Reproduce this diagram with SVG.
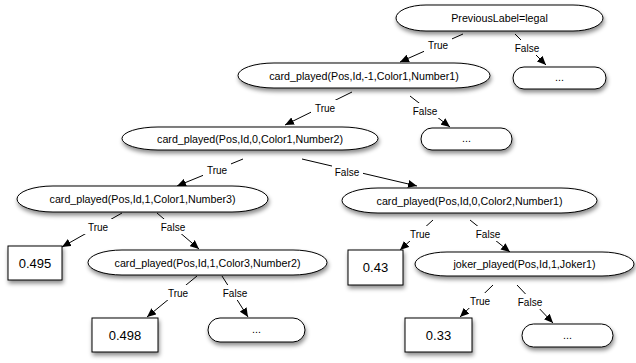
<svg xmlns="http://www.w3.org/2000/svg" width="636" height="363" viewBox="0 0 636 363">
<defs>
<filter id="sh" x="-10%" y="-30%" width="120%" height="180%">
<feDropShadow dx="1" dy="3" stdDeviation="2" flood-color="#000" flood-opacity="0.45"/>
</filter>
<marker id="ah" markerUnits="userSpaceOnUse" markerWidth="10" markerHeight="8" refX="9" refY="4" orient="auto">
<path d="M0,0 L9,4 L0,8 z" fill="#000"/>
</marker>
</defs>
<style>
.n{fill:#fff;stroke:#000;stroke-width:1;filter:url(#sh)}
.t{font-family:"Liberation Sans",Arial,sans-serif;font-size:10.7px;text-anchor:middle;fill:#000}
.v{font-family:"Liberation Sans",Arial,sans-serif;font-size:13px;text-anchor:middle;fill:#000}
.e{stroke:#000;stroke-width:1;fill:none;marker-end:url(#ah)}
.lb{fill:#fff}
.l{font-family:"Liberation Sans",Arial,sans-serif;font-size:10px;text-anchor:middle;fill:#000}
</style>
<rect width="636" height="363" fill="#fff"/>
<g id="connectors">
<line class="e" x1="463" y1="34" x2="400" y2="62"/>
<line class="e" x1="515" y1="34" x2="546" y2="65"/>
<line class="e" x1="352" y1="92" x2="285" y2="125"/>
<line class="e" x1="410" y1="96" x2="450" y2="127"/>
<line class="e" x1="243" y1="159" x2="177" y2="186"/>
<line class="e" x1="302" y1="159" x2="417" y2="186"/>
<line class="e" x1="122" y1="213" x2="62" y2="247"/>
<line class="e" x1="157" y1="213" x2="199" y2="249"/>
<line class="e" x1="197" y1="276" x2="147" y2="317"/>
<line class="e" x1="222" y1="276" x2="248" y2="317"/>
<line class="e" x1="433" y1="220" x2="400" y2="250"/>
<line class="e" x1="470" y1="220" x2="510" y2="252"/>
<line class="e" x1="493" y1="285" x2="460" y2="317"/>
<line class="e" x1="517" y1="285" x2="553" y2="323"/>
<g id="labels">
<rect class="lb" x="424" y="37" width="28" height="15"/><text class="l" x="438" y="49">True</text>
<rect class="lb" x="512" y="40" width="31" height="15"/><text class="l" x="527" y="52">False</text>
<rect class="lb" x="311" y="100" width="28" height="15"/><text class="l" x="325" y="112">True</text>
<rect class="lb" x="410" y="103" width="31" height="15"/><text class="l" x="425" y="115">False</text>
<rect class="lb" x="203" y="162" width="28" height="15"/><text class="l" x="217" y="174">True</text>
<rect class="lb" x="332" y="164" width="31" height="15"/><text class="l" x="347" y="176">False</text>
<rect class="lb" x="84" y="219" width="28" height="15"/><text class="l" x="98" y="231">True</text>
<rect class="lb" x="158" y="219" width="31" height="15"/><text class="l" x="173" y="231">False</text>
<rect class="lb" x="164" y="285" width="28" height="15"/><text class="l" x="178" y="297">True</text>
<rect class="lb" x="220" y="285" width="31" height="15"/><text class="l" x="235" y="297">False</text>
<rect class="lb" x="406" y="226" width="28" height="15"/><text class="l" x="420" y="238">True</text>
<rect class="lb" x="473" y="226" width="31" height="15"/><text class="l" x="488" y="238">False</text>
<rect class="lb" x="466" y="293" width="28" height="15"/><text class="l" x="480" y="305">True</text>
<rect class="lb" x="515" y="294" width="31" height="15"/><text class="l" x="530" y="306">False</text>
</g>
</g>
<g id="n1"><rect class="n" x="396" y="5" width="207" height="26" rx="30" ry="13"/><text class="t" x="499.5" y="22">PreviousLabel=legal</text></g>
<g id="n1f"><rect class="n" x="513" y="67" width="93" height="22" rx="11" ry="11"/><text class="t" x="559.5" y="81">...</text></g>
<g id="n2"><rect class="n" x="238" y="63" width="252" height="25" rx="36" ry="12.5"/><text class="t" x="364" y="79.5">card_played(Pos,Id,-1,Color1,Number1)</text></g>
<g id="n2f"><rect class="n" x="421" y="128" width="91" height="22" rx="11" ry="11"/><text class="t" x="466.5" y="142">...</text></g>
<g id="n3"><rect class="n" x="122" y="127" width="256" height="23" rx="36" ry="11.5"/><text class="t" x="250" y="142.5">card_played(Pos,Id,0,Color1,Number2)</text></g>
<g id="n4"><rect class="n" x="17" y="186" width="251" height="26" rx="36" ry="13"/><text class="t" x="142.5" y="203">card_played(Pos,Id,1,Color1,Number3)</text></g>
<g id="b0495"><rect class="n" x="8" y="246" width="54" height="34"/><text class="v" x="35" y="267.5">0.495</text></g>
<g id="n5"><rect class="n" x="88" y="250" width="239" height="25" rx="34" ry="12.5"/><text class="t" x="207.5" y="266.5">card_played(Pos,Id,1,Color3,Number2)</text></g>
<g id="n6"><rect class="n" x="342" y="188" width="255" height="25" rx="36" ry="12.5"/><text class="t" x="469.5" y="204.5">card_played(Pos,Id,0,Color2,Number1)</text></g>
<g id="b043"><rect class="n" x="348" y="250" width="55" height="35"/><text class="v" x="375.5" y="272">0.43</text></g>
<g id="n7"><rect class="n" x="415" y="252" width="219" height="24" rx="32" ry="12"/><text class="t" x="524.5" y="268">joker_played(Pos,Id,1,Joker1)</text></g>
<g id="b0498"><rect class="n" x="92" y="318" width="66" height="34"/><text class="v" x="125" y="339.5">0.498</text></g>
<g id="n5f"><rect class="n" x="208" y="318" width="97" height="24" rx="12" ry="12"/><text class="t" x="256.5" y="333">...</text></g>
<g id="b033"><rect class="n" x="405" y="318" width="67" height="34"/><text class="v" x="438.5" y="339.5">0.33</text></g>
<g id="n7f"><rect class="n" x="522" y="324" width="91" height="23" rx="11.5" ry="11.5"/><text class="t" x="567.5" y="339">...</text></g>
</svg>
